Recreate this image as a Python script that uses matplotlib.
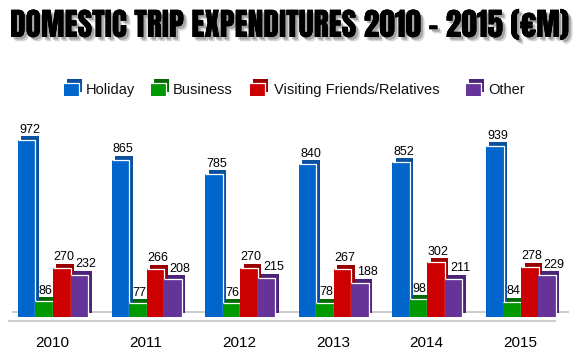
import os
import matplotlib
matplotlib.use('Agg')
import matplotlib.pyplot as plt
import matplotlib.patheffects as pe
from matplotlib import font_manager as fm
from matplotlib.transforms import ScaledTranslation
from matplotlib.patches import Rectangle
from matplotlib.lines import Line2D
import numpy as np

# ---------------- data ----------------
years = ['2010', '2011', '2012', '2013', '2014', '2015']
series_names = ['Holiday', 'Business', 'Visiting Friends/Relatives', 'Other']
holiday = [972, 865, 785, 840, 852, 939]
business = [86, 77, 76, 78, 98, 84]
visiting = [270, 266, 270, 267, 302, 278]
other = [232, 208, 215, 188, 211, 229]
title = 'DOMESTIC TRIP EXPENDITURES 2010 - 2015 (€M)'

series_values = [holiday, business, visiting, other]
front_colors = ['#0066cc', '#009900', '#cc0000', '#663399']
back_colors = ['#0b4f9f', '#006a00', '#990000', '#4b2379']

W, H = 580, 359
DPI = 100
fig = plt.figure(figsize=(W / DPI, H / DPI), dpi=DPI)
ax = fig.add_axes([0, 0, 1, 1])
ax.set_axis_off()

label_font = ['Liberation Sans', 'DejaVu Sans']

# layout in pixels
group_px = 93.6
first_center_px = 53.0
base_from_bottom = 42.0
px_per_val = 0.1816
bar_w = 17.5 / group_px

ax.set_xlim(-first_center_px / group_px, (W - first_center_px) / group_px)
ax.set_ylim(-base_from_bottom / px_per_val, (H - base_from_bottom) / px_per_val)


def off(dx, dy):
    return ax.transData + ScaledTranslation(dx / DPI, dy / DPI, fig.dpi_scale_trans)


x = np.arange(len(years))
n = len(series_values)
label_dx = [3.0, 1.0, 2.0, 7.0]

# baselines
xl, xr = ax.get_xlim()
ax.plot([xl + 12 / group_px, xr - 11 / group_px], [0, 0], color='#c8c8c8', lw=1.3,
        transform=off(0, 5), zorder=1, solid_capstyle='butt')
ax.plot([xl + 8 / group_px, xr - 24 / group_px], [0, 0], color='#c8c8c8', lw=1.3,
        transform=off(0, -4), zorder=1, solid_capstyle='butt')

for i, vals in enumerate(series_values):
    xs = x + (i - (n - 1) / 2) * bar_w
    # back face (3D depth)
    ax.bar(xs, vals, width=bar_w, color=back_colors[i], linewidth=0,
           transform=off(3.5, 4), zorder=2 + 2 * i)
    # front face
    ax.bar(xs, vals, width=bar_w, color=front_colors[i], linewidth=0, zorder=3 + 2 * i)
    for xc, v in zip(xs, vals):
        ax.plot([xc - bar_w / 2, xc + bar_w / 2, xc + bar_w / 2], [v, v, 0],
                color='white', lw=0.9, zorder=3.5 + 2 * i, solid_capstyle='butt')
        ax.text(xc, v, str(v), transform=off(label_dx[i], 7.5), ha='center', va='baseline',
                fontsize=9, family=label_font, color='black', zorder=20)

for xi, yr in zip(x, years):
    ax.text(xi, 0, yr, transform=off(-1, -30), ha='center', va='baseline',
            fontsize=11, family=label_font, color='black')

# ---------------- legend ----------------
def fx(px):
    return px / W


def fy(py):
    return 1 - py / H


leg_sq_x = [64, 151, 250, 466]
leg_tx_x = [86, 173, 274, 488]
sq_top, sq_bot = 83, 96
sq_w = 15
for i, name in enumerate(series_names):
    x0 = leg_sq_x[i]
    fig.add_artist(Rectangle((fx(x0 + 3), fy(sq_bot - 4)), fx(sq_w), (sq_bot - sq_top) / H,
                             transform=fig.transFigure, color=back_colors[i], lw=0))
    fig.add_artist(Rectangle((fx(x0), fy(sq_bot)), fx(sq_w), (sq_bot - sq_top) / H,
                             transform=fig.transFigure, color=front_colors[i], lw=0))
    fig.add_artist(Line2D([fx(x0), fx(x0 + sq_w), fx(x0 + sq_w)],
                          [fy(sq_top), fy(sq_top), fy(sq_bot)],
                          transform=fig.transFigure, color='white', lw=0.9))
    fig.text(fx(leg_tx_x[i]), fy(94), name, ha='left', va='baseline',
             fontsize=10.5, family=label_font, color='#111111')


# ---------------- title ----------------
def pick_title_font():
    prefs = ['impact', 'anton', 'oswald', 'bebas', 'extracondensedblack',
             'condensedblack', 'extracondensedextrabold', 'condensedextrabold',
             'extracondensedbold', 'narrow-bold', 'narrowbold', 'condensed-bold',
             'condensedbold']
    files = sorted(set(f.fname for f in fm.fontManager.ttflist))
    for p in prefs:
        for f in files:
            name = os.path.basename(f).lower().replace('_', '').replace(' ', '')
            if p in name and 'italic' not in name and 'semi' not in name:
                return fm.FontProperties(fname=f)
    return fm.FontProperties(family='DejaVu Sans', weight='heavy')


tfp = pick_title_font()
t = fig.text(0.5, fy(37), title, ha='center', va='baseline', fontproperties=tfp,
             fontsize=20, color='black')
fig.canvas.draw()
r = fig.canvas.get_renderer()
w = t.get_window_extent(r).width
t.set_fontsize(20 * 557.0 / w)
t.set_position((fx(290), fy(37)))
t.set_path_effects([
    pe.withSimplePatchShadow(offset=(3, -3), shadow_rgbFace='#888888', alpha=0.35),
    pe.withSimplePatchShadow(offset=(1.8, -1.8), shadow_rgbFace='#666666', alpha=0.45),
    pe.Normal()])

fig.savefig('out.png', dpi=DPI)
